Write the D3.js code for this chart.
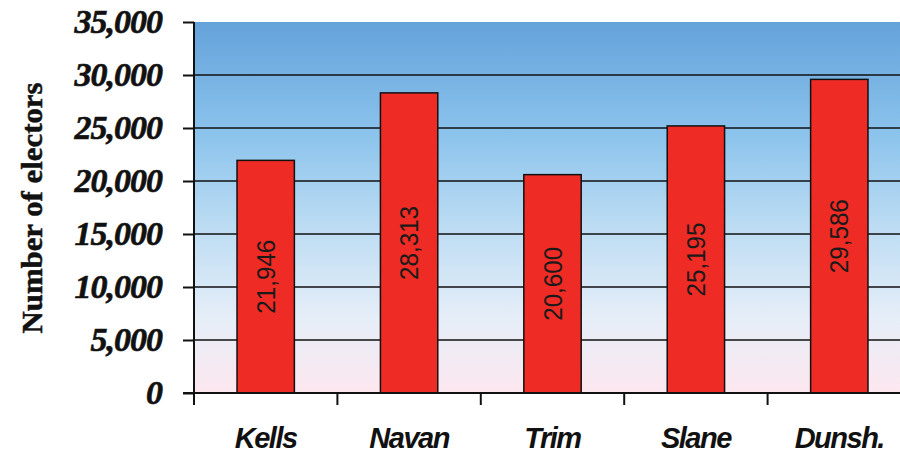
<!DOCTYPE html>
<html>
<head>
<meta charset="utf-8">
<script src="https://cdn.jsdelivr.net/npm/d3@7.9.0/dist/d3.min.js"></script>
<style>
  html, body { margin: 0; padding: 0; background: #fff; overflow: hidden; }
</style>
</head>
<body>
<div id="chart"></div>
<script>
// data
const towns = ['Kells', 'Navan', 'Trim', 'Slane', 'Dunsh.'];
const electors = [21946, 28313, 20600, 25195, 29586];
const yTicks = [0, 5000, 10000, 15000, 20000, 25000, 30000, 35000];

const width = 900;
const height = 455;

const area = { left: 194, right: 911, top: 22, bottom: 393 };

const svg = d3.select('#chart')
    .append('svg')
    .attr('width', width)
    .attr('height', height)
    .attr('viewBox', [0, 0, width, height]);

// background gradient of the plot area
const grad = svg.append('defs')
    .append('linearGradient')
    .attr('id', 'bg')
    .attr('x1', 0).attr('y1', 0)
    .attr('x2', 0).attr('y2', 1);
[[0, '#64a2da'], [0.3, '#8bc3ec'], [0.55, '#bcdcf3'], [0.8, '#e6eef8'], [1, '#fde7ef']]
    .forEach(([o, c]) => grad.append('stop').attr('offset', o).attr('stop-color', c));

const xScale = d3.scaleBand()
    .domain(towns)
    .range([area.left, area.right])
    .paddingInner(0.6)
    .paddingOuter(0.3);

const yScale = d3.scaleLinear()
    .domain([0, 35000])
    .range([area.bottom, area.top]);

svg.append('rect')
    .attr('x', area.left)
    .attr('y', area.top)
    .attr('width', area.right - area.left)
    .attr('height', area.bottom - area.top)
    .attr('fill', 'url(#bg)');

// gridlines (none on the top edge)
svg.append('g')
    .selectAll('line')
    .data(yTicks.filter(d => d > 0 && d < 35000))
    .join('line')
    .attr('x1', area.left)
    .attr('x2', area.right)
    .attr('y1', d => yScale(d))
    .attr('y2', d => yScale(d))
    .attr('stroke', '#111')
    .attr('stroke-width', 1.5);

// bars
svg.append('g')
    .selectAll('rect')
    .data(towns)
    .join('rect')
    .attr('x', d => xScale(d))
    .attr('y', (d, i) => yScale(electors[i]))
    .attr('width', xScale.bandwidth())
    .attr('height', (d, i) => yScale(0) - yScale(electors[i]))
    .attr('fill', '#ee2b24')
    .attr('stroke', '#111')
    .attr('stroke-width', 1.5);

// value labels, rotated in the middle of each bar
svg.append('g')
    .selectAll('text')
    .data(towns)
    .join('text')
    .attr('transform', (d, i) => {
        const cx = xScale(d) + xScale.bandwidth() / 2;
        const cy = (yScale(electors[i]) + yScale(0)) / 2;
        return `translate(${cx},${cy}) rotate(-90)`;
    })
    .attr('text-anchor', 'middle')
    .attr('dominant-baseline', 'central')
    .attr('font-family', 'Liberation Sans, Arial, sans-serif')
    .attr('font-size', 26)
    .attr('textLength', 74)
    .attr('lengthAdjust', 'spacingAndGlyphs')
    .attr('fill', '#1a1a1a')
    .text((d, i) => d3.format(',')(electors[i]));

// y axis
const yAxis = svg.append('g')
    .attr('transform', `translate(${area.left},0)`)
    .call(d3.axisLeft(yScale).tickValues(yTicks).tickFormat(d3.format(',')).tickSize(11).tickPadding(21));
yAxis.select('.domain')
    .attr('d', `M0,${area.top}V${area.bottom + 9}`)
    .attr('stroke', '#111')
    .attr('stroke-width', 2);
yAxis.selectAll('.tick line').attr('stroke', '#111').attr('stroke-width', 2);
yAxis.selectAll('.tick text')
    .attr('font-family', 'Liberation Serif, Times New Roman, serif')
    .attr('font-weight', 'bold')
    .attr('font-style', 'italic')
    .attr('font-size', 34)
    .attr('letter-spacing', -1)
    .attr('stroke', '#111')
    .attr('stroke-width', 0.6)
    .attr('fill', '#111');

// x axis: ticks at category boundaries
const boundaries = towns.map(d => xScale(d) - xScale.step() * 0.3);
svg.append('line')
    .attr('x1', area.left - 11)
    .attr('x2', area.right)
    .attr('y1', yScale(0))
    .attr('y2', yScale(0))
    .attr('stroke', '#111')
    .attr('stroke-width', 2);
svg.append('g')
    .selectAll('line')
    .data(boundaries)
    .join('line')
    .attr('x1', d => d)
    .attr('x2', d => d)
    .attr('y1', yScale(0))
    .attr('y2', yScale(0) + 12)
    .attr('stroke', '#111')
    .attr('stroke-width', 2);

svg.append('g')
    .selectAll('text')
    .data(towns)
    .join('text')
    .attr('x', d => xScale(d) + xScale.bandwidth() / 2)
    .attr('y', 448)
    .attr('text-anchor', 'middle')
    .attr('font-family', 'Liberation Sans, Arial, sans-serif')
    .attr('font-weight', 'bold')
    .attr('font-style', 'italic')
    .attr('font-size', 29)
    .attr('letter-spacing', -1.5)
    .attr('fill', '#111')
    .text(d => d);

// y axis title
svg.append('text')
    .attr('transform', `translate(31,208) rotate(-90)`)
    .attr('text-anchor', 'middle')
    .attr('dominant-baseline', 'central')
    .attr('font-family', 'Liberation Serif, Times New Roman, serif')
    .attr('font-weight', 'bold')
    .attr('font-size', 30)
    .attr('textLength', 251)
    .attr('lengthAdjust', 'spacingAndGlyphs')
    .attr('stroke', '#111')
    .attr('stroke-width', 0.5)
    .attr('fill', '#111')
    .text('Number of electors');
</script>
</body>
</html>
